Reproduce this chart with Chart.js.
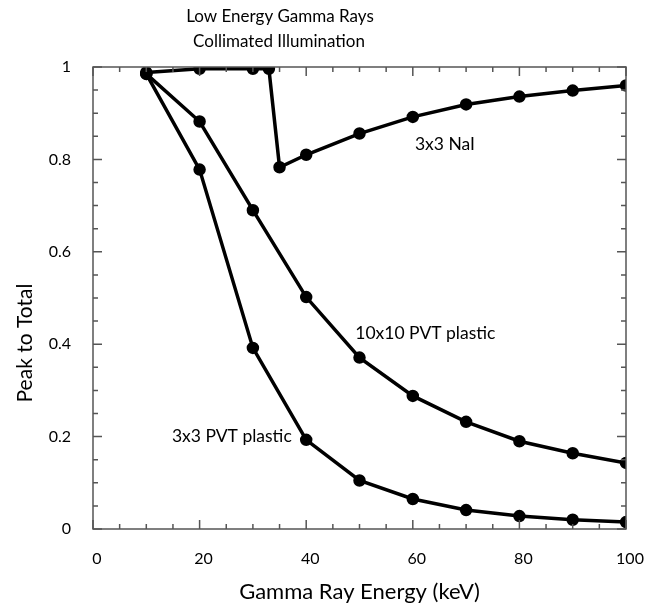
<!DOCTYPE html>
<html>
<head>
<meta charset="utf-8">
<script src="https://cdn.jsdelivr.net/npm/chart.js@4"></script>
<style>
  html, body { margin: 0; padding: 0; background: #fff; }
  #wrap { width: 662px; height: 607px; position: relative; }
</style>
</head>
<body>
<div id="wrap"><canvas id="gamma"></canvas></div>
<script>
// energies (keV) and peak-to-total ratios
const naiEnergy = [10, 20, 30, 33, 35, 40, 50, 60, 70, 80, 90, 100];
const naiRatio  = [0.988, 0.996, 0.996, 0.996, 0.783, 0.81, 0.856, 0.892, 0.919, 0.936, 0.949, 0.96];

const pvtEnergy = [10, 20, 30, 40, 50, 60, 70, 80, 90, 100];
const pvt10Ratio = [0.985, 0.882, 0.69, 0.502, 0.371, 0.288, 0.232, 0.19, 0.164, 0.143];
const pvt3Ratio  = [0.985, 0.778, 0.392, 0.193, 0.105, 0.065, 0.041, 0.028, 0.02, 0.015];

const seriesNames = ['3x3 NaI', '10x10 PVT plastic', '3x3 PVT plastic'];
// where each curve label sits, in data units (left edge, middle)
const labelX = [60.4, 49.2, 14.8];
const labelY = [0.833, 0.424, 0.201];

const titleLines = ['Low Energy Gamma Rays', 'Collimated Illumination'];
const xTitle = 'Gamma Ray Energy (keV)';
const yTitle = 'Peak to Total';

const FONT = 'Lato, "Open Sans", sans-serif';

function pts(xs, ys) {
    return xs.map((x, i) => ({ x: x, y: ys[i] }));
}

function line(label, xs, ys) {
    return {
        label: label,
        data: pts(xs, ys),
        borderColor: '#000',
        backgroundColor: '#000',
        borderWidth: 3.5,
        pointRadius: 4.5,
        pointHoverRadius: 4.5,
        tension: 0
    };
}

// frame, inward ticks on all four sides, and the text
const decor = {
    id: 'decor',
    afterDraw(chart) {
        const c = chart.ctx;
        const xs = chart.scales.x, ys = chart.scales.y;
        const a = chart.chartArea;
        c.save();
        c.strokeStyle = '#555';
        c.lineWidth = 1.5;
        c.strokeRect(a.left, a.top, a.right - a.left, a.bottom - a.top);
        c.beginPath();
        for (let v = 0; v <= 100; v += 5) {
            const px = xs.getPixelForValue(v);
            const len = v % 20 === 0 ? 9 : 5;
            c.moveTo(px, a.bottom); c.lineTo(px, a.bottom - len);
            c.moveTo(px, a.top); c.lineTo(px, a.top + len);
        }
        for (let k = 0; k <= 20; k++) {
            const py = ys.getPixelForValue(k * 0.05);
            const len = k % 4 === 0 ? 9 : 5;
            c.moveTo(a.left, py); c.lineTo(a.left + len, py);
            c.moveTo(a.right, py); c.lineTo(a.right - len, py);
        }
        c.stroke();

        c.fillStyle = '#000';
        c.font = '17.5px ' + FONT;
        c.textAlign = 'left';
        c.textBaseline = 'middle';
        seriesNames.forEach((n, i) => {
            c.fillText(n, xs.getPixelForValue(labelX[i]), ys.getPixelForValue(labelY[i]));
        });

        c.textAlign = 'center';
        c.font = '17px ' + FONT;
        c.fillText(titleLines[0], 280, 17);
        c.fillText(titleLines[1], 279, 42);
        c.font = '22px ' + FONT;
        c.fillText(xTitle, (a.left + a.right) / 2, 592);

        c.font = '21px ' + FONT;
        c.translate(25, 343);
        c.rotate(-Math.PI / 2);
        c.fillText(yTitle, 0, 0);
        c.restore();
    }
};

const ctx = document.getElementById('gamma').getContext('2d');
const chart = new Chart(ctx, {
    type: 'line',
    data: {
        datasets: [
            line(seriesNames[0], naiEnergy, naiRatio),
            line(seriesNames[1], pvtEnergy, pvt10Ratio),
            line(seriesNames[2], pvtEnergy, pvt3Ratio)
        ]
    },
    options: {
        responsive: true,
        maintainAspectRatio: false,
        animation: false,
        layout: { padding: { left: 0, right: 36, top: 67, bottom: 0 } },
        scales: {
            x: {
                type: 'linear',
                min: 0,
                max: 100,
                grid: { display: false },
                border: { display: false },
                ticks: {
                    stepSize: 20,
                    padding: 12,
                    labelOffset: 4,
                    color: '#000',
                    font: { family: FONT, size: 16 }
                },
                afterFit(s) { s.height = 78; }
            },
            y: {
                min: 0,
                max: 1,
                grid: { display: false },
                border: { display: false },
                ticks: {
                    stepSize: 0.2,
                    padding: 14,
                    color: '#000',
                    font: { family: FONT, size: 16 },
                    callback: v => String(Math.round(v * 10) / 10)
                },
                afterFit(s) { s.width = 93; }
            }
        },
        plugins: {
            legend: { display: false },
            title: { display: false },
            tooltip: { enabled: false }
        }
    },
    plugins: [decor]
});
</script>
</body>
</html>
